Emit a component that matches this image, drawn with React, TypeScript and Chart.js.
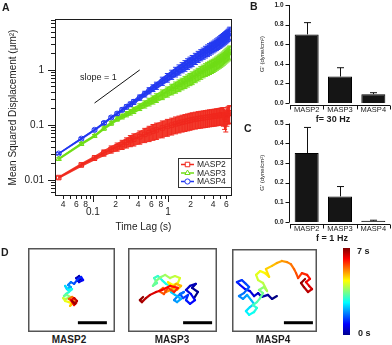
import React, { useEffect, useRef } from 'react';
import { Chart, registerables } from 'chart.js';

Chart.register(...registerables);

const FONT = '"Liberation Sans", Arial, Helvetica, sans-serif';
const INK = '#1c1c1c';

// ---------------- Panel A : MSD vs time lag ----------------
const lagTimes = [
  0.035, 0.07, 0.105, 0.14, 0.175, 0.21, 0.245, 0.28, 0.315, 0.35,
  0.42, 0.49, 0.56, 0.63, 0.7, 0.84, 0.98, 1.12, 1.26, 1.4,
  1.54, 1.68, 1.82, 1.96, 2.1, 2.31, 2.52, 2.73, 2.94, 3.15,
  3.36, 3.57, 3.78, 3.99, 4.2, 4.41, 4.62, 4.83, 5.04, 5.25,
  5.46, 5.67, 5.88, 6.09, 6.3, 6.51, 6.65,
];
const masp2Msd = [
  0.011, 0.0187, 0.025, 0.031, 0.036, 0.04, 0.044, 0.048, 0.052, 0.055,
  0.061, 0.067, 0.072, 0.077, 0.081, 0.088, 0.094, 0.099, 0.104, 0.108,
  0.112, 0.115, 0.118, 0.121, 0.124, 0.127, 0.13, 0.132, 0.134, 0.136,
  0.138, 0.14, 0.141, 0.143, 0.144, 0.146, 0.147, 0.149, 0.15, 0.152,
  0.15, 0.138, 0.128, 0.15, 0.158, 0.163, 0.166,
];
const masp3Msd = [
  0.024, 0.045, 0.063, 0.086, 0.107, 0.128, 0.142, 0.157, 0.171, 0.185,
  0.212, 0.238, 0.263, 0.288, 0.312, 0.36, 0.405, 0.45, 0.49, 0.53,
  0.57, 0.61, 0.65, 0.69, 0.73, 0.79, 0.85, 0.91, 0.97, 1.03,
  1.08, 1.13, 1.18, 1.23, 1.29, 1.35, 1.41, 1.47, 1.53, 1.6,
  1.67, 1.75, 1.83, 1.91, 1.99, 2.07, 2.15,
];
const masp4Msd = [
  0.03, 0.056, 0.081, 0.108, 0.136, 0.16, 0.188, 0.213, 0.238, 0.262,
  0.315, 0.365, 0.42, 0.47, 0.52, 0.63, 0.73, 0.83, 0.93, 1.02,
  1.12, 1.21, 1.31, 1.4, 1.49, 1.63, 1.77, 1.9, 2.03, 2.17,
  2.3, 2.43, 2.56, 2.69, 2.82, 2.96, 3.1, 3.24, 3.38, 3.53,
  3.68, 3.84, 4.0, 4.18, 4.38, 4.6, 4.8,
];
// relative standard errors
const masp2Err = [
  0.06, 0.08, 0.1, 0.13, 0.15, 0.17, 0.19, 0.21, 0.23, 0.25,
  0.27, 0.29, 0.31, 0.32, 0.33, 0.34, 0.34, 0.34, 0.34, 0.34,
  0.34, 0.34, 0.34, 0.34, 0.34, 0.34, 0.34, 0.34, 0.34, 0.34,
  0.34, 0.34, 0.34, 0.34, 0.34, 0.34, 0.34, 0.34, 0.34, 0.35,
  0.37, 0.4, 0.42, 0.37, 0.35, 0.35, 0.35,
];
const masp3Err = [
  0.05, 0.06, 0.06, 0.07, 0.08, 0.09, 0.1, 0.11, 0.12, 0.13,
  0.14, 0.15, 0.16, 0.17, 0.18, 0.2, 0.21, 0.22, 0.23, 0.24,
  0.24, 0.25, 0.25, 0.25, 0.26, 0.26, 0.26, 0.26, 0.26, 0.26,
  0.27, 0.27, 0.27, 0.27, 0.27, 0.27, 0.27, 0.27, 0.27, 0.27,
  0.27, 0.27, 0.27, 0.27, 0.27, 0.27, 0.27,
];
const masp4Err = [
  0.04, 0.05, 0.05, 0.06, 0.06, 0.07, 0.08, 0.09, 0.09, 0.1,
  0.11, 0.12, 0.13, 0.14, 0.15, 0.17, 0.18, 0.19, 0.2, 0.21,
  0.21, 0.22, 0.22, 0.22, 0.23, 0.23, 0.23, 0.23, 0.23, 0.24,
  0.24, 0.24, 0.24, 0.24, 0.24, 0.24, 0.24, 0.24, 0.25, 0.25,
  0.25, 0.25, 0.25, 0.25, 0.25, 0.25, 0.25,
];
const seriesNames = ['MASP2', 'MASP3', 'MASP4'];
const seriesColors = ['#f0281e', '#6fdc16', '#2238f0'];
const seriesBands = ['#f23a2c', '#7be324', '#3146f2'];
const seriesMarkers = ['rect', 'triangle', 'circle'];
const seriesRadius = [3.2, 3.0, 2.6];

const lagRange = [0.0322, 6.9];
const msdRange = [0.0053, 8.1];
const lagTickValues = [0.04, 0.05, 0.06, 0.07, 0.08, 0.09, 0.1, 0.2, 0.3, 0.4, 0.5, 0.6, 0.7, 0.8, 0.9, 1, 2, 3, 4, 5, 6];
const lagMajorTicks = [0.1, 1];
const lagLabelValues = [0.04, 0.06, 0.08, 0.1, 0.2, 0.4, 0.6, 0.8, 1, 2, 4, 6];
const lagLabelTexts = ['4', '6', '8', '0.1', '2', '4', '6', '8', '1', '2', '4', '6'];
const msdTickValues = [
  0.006, 0.007, 0.008, 0.009, 0.01, 0.02, 0.03, 0.04, 0.05, 0.06, 0.07, 0.08, 0.09,
  0.1, 0.2, 0.3, 0.4, 0.5, 0.6, 0.7, 0.8, 0.9, 1, 2, 3, 4, 5, 6, 7, 8,
];
const msdMajorTicks = [0.01, 0.1, 1];
const msdLabelTexts = ['0.01', '0.1', '1'];
const slopeLag = [0.105, 0.42];
const slopeMsd = [0.25, 1.0];
const slopeLabelLag = 0.067;
const slopeLabelMsd = 0.72;

// ---------------- Panels B, C : G' bars ----------------
const strainNames = ['MASP2', 'MASP3', 'MASP4'];
const g30Hz = [0.7, 0.27, 0.09];
const g30HzErr = [0.12, 0.09, 0.015];
const g30Ticks = [0, 0.2, 0.4, 0.6, 0.8, 1.0];
const g30TickLabels = ['0.0', '0.2', '0.4', '0.6', '0.8', '1.0'];
const g1Hz = [0.35, 0.13, 0.006];
const g1HzErr = [0.13, 0.05, 0.003];
const g1Ticks = [0, 0.1, 0.2, 0.3, 0.4, 0.5];
const g1TickLabels = ['0.0', '0.1', '0.2', '0.3', '0.4', '0.5'];

// ---------------- Panel D : trajectories (µm) ----------------
const trajMasp2X = [1.72, 1.83, 1.76, 1.66, 1.76, 1.9, 1.83, 1.69, 1.59, 1.48, 1.38, 1.48, 1.34, 1.28, 1.38, 1.52, 1.41, 1.31, 1.24, 1.34, 1.45, 1.31, 1.21, 1.28, 1.41, 1.52, 1.45, 1.55, 1.62, 1.52, 1.41, 1.52, 1.66, 1.59, 1.48, 1.59, 1.69, 1.62, 1.52];
const trajMasp2Y = [1.76, 1.83, 1.93, 1.86, 1.72, 1.79, 1.9, 1.79, 1.66, 1.72, 1.62, 1.55, 1.48, 1.59, 1.45, 1.48, 1.38, 1.31, 1.24, 1.28, 1.21, 1.14, 1.17, 1.07, 1.03, 0.97, 0.9, 1.03, 1.14, 1.21, 1.14, 1.07, 1.0, 0.93, 1.1, 1.17, 1.07, 0.97, 1.07];
const trajMasp3X = [2.28, 2.41, 2.21, 2.34, 2.14, 2.0, 2.17, 2.31, 2.14, 2.0, 2.07, 1.9, 1.79, 1.93, 1.72, 1.59, 1.69, 1.83, 1.62, 1.48, 1.59, 1.45, 1.31, 1.17, 1.03, 0.9, 1.0, 0.86, 0.97, 1.14, 1.28, 1.45, 1.62, 1.79, 1.72, 1.55, 1.38, 1.52, 1.69, 1.83, 1.66, 1.48, 1.31, 1.21, 1.07, 1.24, 1.38, 1.59, 1.72, 1.45, 1.17, 0.97, 0.76, 0.62, 0.48, 0.41, 0.52];
const trajMasp3Y = [1.17, 1.38, 1.52, 1.66, 1.59, 1.45, 1.31, 1.1, 0.97, 1.1, 1.28, 1.17, 1.31, 1.38, 1.24, 1.1, 1.03, 1.14, 1.28, 1.38, 1.52, 1.59, 1.66, 1.79, 1.93, 1.86, 1.69, 1.59, 1.76, 1.9, 1.97, 1.86, 1.93, 1.86, 1.69, 1.62, 1.72, 1.52, 1.45, 1.59, 1.66, 1.45, 1.38, 1.52, 1.41, 1.31, 1.52, 1.38, 1.52, 1.59, 1.45, 1.38, 1.28, 1.17, 1.03, 1.1, 1.21];
const trajMasp4X = [1.55, 1.38, 1.24, 1.03, 0.9, 0.76, 0.62, 0.45, 0.28, 0.17, 0.34, 0.48, 0.59, 0.41, 0.24, 0.38, 0.52, 0.66, 0.76, 0.62, 0.48, 0.59, 0.76, 0.86, 0.72, 0.86, 0.97, 1.07, 0.93, 1.1, 1.21, 1.07, 0.9, 0.83, 0.97, 1.14, 1.28, 1.17, 1.38, 1.55, 1.72, 1.9, 2.03, 2.14, 2.21, 2.28, 2.41, 2.59, 2.69, 2.55, 2.66, 2.76, 2.62, 2.48, 2.38, 2.52];
const trajMasp4Y = [1.24, 1.14, 1.28, 1.21, 1.34, 1.24, 1.41, 1.48, 1.62, 1.72, 1.79, 1.66, 1.55, 1.34, 1.24, 1.14, 1.28, 1.1, 0.97, 0.86, 0.72, 0.59, 0.69, 0.83, 0.93, 1.03, 1.17, 1.34, 1.45, 1.55, 1.41, 1.69, 1.79, 1.97, 2.1, 2.03, 1.9, 2.17, 2.28, 2.38, 2.45, 2.41, 2.34, 2.17, 2.03, 1.86, 2.03, 1.97, 1.83, 1.72, 1.59, 1.48, 1.38, 1.55, 1.69, 1.83];
const scaleBarStartUm = [1.72, 1.9, 1.79];
const scaleBarUm = 1;
const scaleBarYUm = 0.32;
const PX_PER_UM = 29;

// ---------------- helpers ----------------
function clamp01(v: number) {
  return Math.max(0, Math.min(1, v));
}
function jet(f: number) {
  const r = clamp01(1.5 - Math.abs(4 * f - 3));
  const g = clamp01(1.5 - Math.abs(4 * f - 2));
  const b = clamp01(1.5 - Math.abs(4 * f - 1));
  return `rgb(${Math.round(r * 255)},${Math.round(g * 255)},${Math.round(b * 255)})`;
}

function drawMarker(ctx: any, style: string, x: number, y: number, r: number, stroke: string) {
  ctx.beginPath();
  if (style === 'rect') {
    const s = r * Math.SQRT1_2;
    ctx.rect(x - s, y - s, 2 * s, 2 * s);
  } else if (style === 'triangle') {
    ctx.moveTo(x, y - r);
    ctx.lineTo(x + r * 0.866, y + r * 0.5);
    ctx.lineTo(x - r * 0.866, y + r * 0.5);
    ctx.closePath();
  } else {
    ctx.arc(x, y, r, 0, Math.PI * 2);
  }
  ctx.fillStyle = '#ffffff';
  ctx.fill();
  ctx.lineWidth = 1;
  ctx.strokeStyle = stroke;
  ctx.stroke();
}

const msdSeries = [masp2Msd, masp3Msd, masp4Msd];
const errSeries = [masp2Err, masp3Err, masp4Err];

function drawErrorBands(ctx: any, a: any, xs: any, ys: any) {
  ctx.save();
  // paint beneath what the datasets already drew
  ctx.globalCompositeOperation = 'destination-over';
  ctx.beginPath();
  ctx.rect(a.left, a.top, a.right - a.left, a.bottom - a.top);
  ctx.clip();
  ctx.lineWidth = 1;
  for (let i = 0; i < 3; i++) {
    const vals = msdSeries[i];
    const errs = errSeries[i];
    ctx.strokeStyle = seriesColors[i];
    ctx.beginPath();
    for (let j = 0; j < lagTimes.length; j++) {
      const px = xs.getPixelForValue(lagTimes[j]);
      const hi = ys.getPixelForValue(vals[j] * (1 + errs[j]));
      const lo = ys.getPixelForValue(vals[j] * (1 - errs[j]));
      ctx.moveTo(px, hi);
      ctx.lineTo(px, lo);
      ctx.moveTo(px - 2.5, hi);
      ctx.lineTo(px + 2.5, hi);
      ctx.moveTo(px - 2.5, lo);
      ctx.lineTo(px + 2.5, lo);
    }
    ctx.stroke();
    ctx.beginPath();
    for (let j = 0; j < lagTimes.length; j++) {
      const px = xs.getPixelForValue(lagTimes[j]);
      const hi = ys.getPixelForValue(vals[j] * (1 + errs[j]));
      if (j === 0) ctx.moveTo(px, hi);
      else ctx.lineTo(px, hi);
    }
    for (let j = lagTimes.length - 1; j >= 0; j--) {
      ctx.lineTo(xs.getPixelForValue(lagTimes[j]), ys.getPixelForValue(vals[j] * (1 - errs[j])));
    }
    ctx.closePath();
    ctx.fillStyle = seriesBands[i];
    ctx.fill();
  }
  ctx.restore();
}

const panelAPlugin = {
  id: 'panelA',
  afterDraw(chart: any) {
    const ctx = chart.ctx;
    const a = chart.chartArea;
    const xs = chart.scales.x;
    const ys = chart.scales.y;
    drawErrorBands(ctx, a, xs, ys);
    ctx.save();
    ctx.globalCompositeOperation = 'source-over';
    ctx.strokeStyle = INK;
    ctx.fillStyle = INK;
    ctx.lineWidth = 1;
    ctx.strokeRect(a.left - 0.5, a.top - 0.5, a.right - a.left + 1, a.bottom - a.top + 1);

    ctx.beginPath();
    lagTickValues.forEach((v) => {
      const px = Math.round(xs.getPixelForValue(v)) + 0.5;
      const len = lagMajorTicks.includes(v) ? 7 : 4;
      ctx.moveTo(px, a.bottom);
      ctx.lineTo(px, a.bottom + len);
    });
    msdTickValues.forEach((v) => {
      const py = Math.round(ys.getPixelForValue(v)) + 0.5;
      const len = msdMajorTicks.includes(v) ? 8 : 5;
      ctx.moveTo(a.left - len, py);
      ctx.lineTo(a.left, py);
    });
    ctx.stroke();

    ctx.textAlign = 'center';
    ctx.textBaseline = 'top';
    lagLabelValues.forEach((v, i) => {
      const major = lagMajorTicks.includes(v);
      ctx.font = `${major ? 10 : 8.5}px ${FONT}`;
      ctx.fillText(lagLabelTexts[i], xs.getPixelForValue(v), a.bottom + (major ? 12.5 : 5));
    });
    ctx.textAlign = 'right';
    ctx.textBaseline = 'middle';
    ctx.font = `10px ${FONT}`;
    msdMajorTicks.forEach((v, i) => {
      ctx.fillText(msdLabelTexts[i], a.left - 12, ys.getPixelForValue(v));
    });

    ctx.textAlign = 'center';
    ctx.fillText('Time Lag (s)', (a.left + a.right) / 2, a.bottom + 32);
    ctx.save();
    ctx.translate(13, (a.top + a.bottom) / 2);
    ctx.rotate(-Math.PI / 2);
    ctx.fillText('Mean Squared Displacement (\u03bcm\u00b2)', 0, 0);
    ctx.restore();

    ctx.font = `9px ${FONT}`;
    ctx.textAlign = 'left';
    ctx.fillText('slope = 1', xs.getPixelForValue(slopeLabelLag), ys.getPixelForValue(slopeLabelMsd));

    // legend
    const lx = a.right - 53;
    const ly = a.bottom - 37;
    ctx.fillStyle = '#ffffff';
    ctx.fillRect(lx, ly, 53, 29);
    ctx.strokeStyle = '#333';
    ctx.strokeRect(lx + 0.5, ly + 0.5, 53, 29);
    ctx.font = `8.5px ${FONT}`;
    seriesNames.forEach((name, i) => {
      const yy = ly + 6.5 + i * 8.5;
      ctx.strokeStyle = seriesColors[i];
      ctx.lineWidth = 1.5;
      ctx.beginPath();
      ctx.moveTo(lx + 3, yy);
      ctx.lineTo(lx + 16, yy);
      ctx.stroke();
      drawMarker(ctx, seriesMarkers[i], lx + 9.5, yy, seriesRadius[i], seriesColors[i]);
      ctx.fillStyle = INK;
      ctx.fillText(name, lx + 19, yy + 0.5);
    });
    ctx.restore();
  },
};

function makePanelA(): any {
  const datasets: any[] = seriesNames.map((name, i) => ({
    label: name,
    data: lagTimes.map((t, j) => ({ x: t, y: msdSeries[i][j] })),
    borderColor: seriesColors[i],
    backgroundColor: 'rgba(255,255,255,0)',
    borderWidth: 1.5,
    pointStyle: seriesMarkers[i],
    pointRadius: seriesRadius[i],
    pointBorderWidth: 1,
    pointBorderColor: seriesColors[i],
    pointBackgroundColor: 'rgba(255,255,255,0)',
    tension: 0,
  }));
  datasets.push({
    label: 'slope',
    data: slopeLag.map((t, j) => ({ x: t, y: slopeMsd[j] })),
    borderColor: '#111',
    borderWidth: 1,
    pointRadius: 0,
  });
  return {
    type: 'line',
    data: { datasets },
    options: {
      responsive: false,
      animation: false,
      devicePixelRatio: 1,
      layout: { padding: { left: 56, top: 20, right: 9, bottom: 45 } },
      scales: {
        x: { type: 'logarithmic', min: lagRange[0], max: lagRange[1], display: false },
        y: { type: 'logarithmic', min: msdRange[0], max: msdRange[1], display: false },
      },
      plugins: { legend: { display: false }, tooltip: { enabled: false } },
    },
    plugins: [panelAPlugin],
  };
}

function makeBarPanel(values: number[], errors: number[], ticks: number[], tickLabels: string[], footer: string, footerX: number, padTop: number, padBottom: number): any {
  const plugin = {
    id: 'barAxes',
    afterDatasetsDraw(chart: any) {
      const { ctx, chartArea: a, scales } = chart;
      const xs = scales.x;
      const ys = scales.y;
      ctx.save();
      ctx.strokeStyle = '#111';
      ctx.fillStyle = INK;
      ctx.lineWidth = 1;
      ctx.beginPath();
      values.forEach((v, i) => {
        const px = Math.round(xs.getPixelForValue(i)) + 0.5;
        const top = ys.getPixelForValue(v + errors[i]);
        const base = ys.getPixelForValue(v);
        ctx.moveTo(px, base);
        ctx.lineTo(px, top);
        ctx.moveTo(px - 3.5, top);
        ctx.lineTo(px + 3.5, top);
      });
      const L = Math.round(a.left) - 0.5;
      ctx.moveTo(L, a.top);
      ctx.lineTo(L, a.bottom);
      ticks.forEach((v) => {
        const py = Math.round(ys.getPixelForValue(v)) + 0.5;
        ctx.moveTo(L - 4, py);
        ctx.lineTo(L, py);
      });
      const B = Math.round(a.bottom) + 2.5;
      ctx.moveTo(a.left, B);
      ctx.lineTo(a.right, B);
      [-0.5, 0.5, 1.5, 2.5].forEach((c) => {
        const px = Math.round(xs.getPixelForValue(c)) + 0.5;
        ctx.moveTo(px, B);
        ctx.lineTo(px, B + 4);
      });
      ctx.stroke();

      ctx.font = `bold 6.5px ${FONT}`;
      ctx.textAlign = 'right';
      ctx.textBaseline = 'middle';
      ticks.forEach((v, i) => ctx.fillText(tickLabels[i], L - 6, ys.getPixelForValue(v)));

      ctx.font = `7.5px ${FONT}`;
      ctx.textAlign = 'center';
      ctx.textBaseline = 'top';
      strainNames.forEach((n, i) => ctx.fillText(n, xs.getPixelForValue(i), B + 0.5));

      ctx.font = `bold 9px ${FONT}`;
      ctx.textBaseline = 'middle';
      ctx.fillText(footer, footerX, a.bottom + 17);

      ctx.save();
      ctx.font = `6px ${FONT}`;
      ctx.translate(a.left - 28, (a.top + a.bottom) / 2);
      ctx.rotate(-Math.PI / 2);
      ctx.fillText("G' (dyne/cm\u00b2)", 0, 0);
      ctx.restore();
      ctx.restore();
    },
  };
  return {
    type: 'bar',
    data: {
      labels: strainNames,
      datasets: [
        {
          data: values,
          backgroundColor: '#151515',
          borderColor: '#000',
          borderWidth: 1,
          barPercentage: 0.72,
          categoryPercentage: 1,
        },
      ],
    },
    options: {
      responsive: false,
      animation: false,
      devicePixelRatio: 1,
      layout: { padding: { left: 50, top: padTop, right: 2, bottom: padBottom } },
      scales: {
        x: { display: false, offset: true },
        y: { display: false, min: ticks[0], max: ticks[ticks.length - 1] },
      },
      plugins: { legend: { display: false }, tooltip: { enabled: false } },
    },
    plugins: [plugin],
  };
}

function makeTrajectory(xsUm: number[], ysUm: number[], barStart: number, w: number, h: number): any {
  const n = xsUm.length;
  const frame = {
    id: 'frame',
    afterDraw(chart: any) {
      const { ctx, chartArea: a } = chart;
      ctx.save();
      ctx.strokeStyle = '#555';
      ctx.lineWidth = 1.5;
      ctx.strokeRect(a.left + 0.75, a.top + 0.75, a.right - a.left - 1.5, a.bottom - a.top - 1.5);
      ctx.restore();
    },
  };
  return {
    type: 'scatter',
    data: {
      datasets: [
        {
          data: xsUm.map((x, i) => ({ x, y: ysUm[i] })),
          showLine: true,
          pointRadius: 0,
          borderWidth: 2.2,
          borderColor: jet(0),
          borderJoinStyle: 'round',
          borderCapStyle: 'round',
          segment: { borderColor: (c: any) => jet(c.p0DataIndex / (n - 1)) },
        },
        {
          data: [
            { x: barStart, y: scaleBarYUm },
            { x: barStart + scaleBarUm, y: scaleBarYUm },
          ],
          showLine: true,
          pointRadius: 0,
          borderWidth: 3,
          borderColor: '#000',
        },
      ],
    },
    options: {
      responsive: false,
      animation: false,
      devicePixelRatio: 1,
      layout: { padding: 0 },
      scales: {
        x: { type: 'linear', min: 0, max: w / PX_PER_UM, display: false },
        y: { type: 'linear', min: 0, max: h / PX_PER_UM, display: false },
      },
      plugins: { legend: { display: false }, tooltip: { enabled: false } },
    },
    plugins: [frame],
  };
}

function ChartBox(props: { left: number; top: number; width: number; height: number; make: () => any }) {
  const ref = useRef<HTMLCanvasElement>(null);
  useEffect(() => {
    const chart = new Chart(ref.current as HTMLCanvasElement, props.make());
    return () => chart.destroy();
  }, []);
  return (
    <canvas
      ref={ref}
      width={props.width}
      height={props.height}
      style={{ position: 'absolute', left: props.left, top: props.top, width: props.width, height: props.height }}
    />
  );
}

function Label(props: { text: string; left: number; top: number; size: number; bold?: boolean; center?: boolean }) {
  const style: any = {
    position: 'absolute',
    top: props.top,
    fontFamily: FONT,
    fontSize: props.size,
    lineHeight: `${props.size}px`,
    fontWeight: props.bold ? 'bold' : 'normal',
    color: INK,
    whiteSpace: 'nowrap',
  };
  if (props.center) {
    style.left = props.left - 50;
    style.width = 100;
    style.textAlign = 'center';
  } else {
    style.left = props.left;
  }
  return <div style={style}>{props.text}</div>;
}

export default function App() {
  return (
    <div style={{ position: 'absolute', left: 0, top: 0, width: 392, height: 345, background: '#fff', overflow: 'hidden' }}>
      <ChartBox left={0} top={0} width={240} height={240} make={makePanelA} />
      <ChartBox left={240} top={0} width={152} height={128} make={() => makeBarPanel(g30Hz, g30HzErr, g30Ticks, g30TickLabels, 'f= 30 Hz', 93, 5, 25)} />
      <ChartBox left={240} top={118} width={152} height={130} make={() => makeBarPanel(g1Hz, g1HzErr, g1Ticks, g1TickLabels, 'f = 1 Hz', 92, 5.5, 26)} />
      <ChartBox left={28} top={248} width={87} height={84} make={() => makeTrajectory(trajMasp2X, trajMasp2Y, scaleBarStartUm[0], 87, 84)} />
      <ChartBox left={128} top={248} width={89} height={84} make={() => makeTrajectory(trajMasp3X, trajMasp3Y, scaleBarStartUm[1], 89, 84)} />
      <ChartBox left={232} top={249} width={85} height={83} make={() => makeTrajectory(trajMasp4X, trajMasp4Y, scaleBarStartUm[2], 85, 83)} />
      <div
        style={{
          position: 'absolute',
          left: 343,
          top: 248,
          width: 7,
          height: 87,
          background: 'linear-gradient(to top, #00008f 0%, #0000ff 12.5%, #00ffff 37.5%, #ffff00 62.5%, #ff0000 87.5%, #800000 100%)',
        }}
      />
      <Label text="A" left={2} top={2} size={10.5} bold />
      <Label text="B" left={250} top={1} size={10.5} bold />
      <Label text="C" left={244} top={123} size={10.5} bold />
      <Label text="D" left={1} top={247} size={10.5} bold />
      <Label text="MASP2" left={69} top={335} size={10} bold center />
      <Label text="MASP3" left={172} top={335} size={10} bold center />
      <Label text="MASP4" left={273} top={335} size={10} bold center />
      <Label text="7 s" left={357} top={247} size={9} bold />
      <Label text="0 s" left={358} top={329} size={9} bold />
    </div>
  );
}
